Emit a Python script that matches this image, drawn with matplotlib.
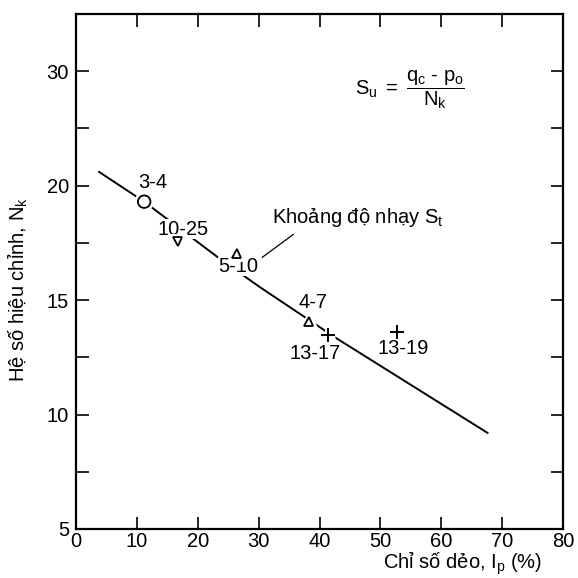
import numpy as np
import matplotlib
matplotlib.use("Agg")
import matplotlib.pyplot as plt
import matplotlib.patheffects as pe
from matplotlib.ticker import FixedLocator, FixedFormatter

plt.rcParams['font.family'] = ['Liberation Sans', 'DejaVu Sans']
plt.rcParams['mathtext.fontset'] = 'custom'
plt.rcParams['mathtext.rm'] = 'Liberation Sans'
plt.rcParams['mathtext.it'] = 'Liberation Sans'
plt.rcParams['mathtext.bf'] = 'Liberation Sans:bold'

FS = 14.5

# ---- data ----
line_x = [3.8, 11.2, 23.9, 30.3, 42.8, 67.6]
line_y = [21.2, 19.3, 16.75, 15.55, 13.33, 9.2]

circle_x, circle_y = [11.2], [19.3]
tri_down_x, tri_down_y = [16.7], [17.58]
tri_up_x, tri_up_y = [26.4, 38.2], [17.03, 14.06]
plus_x, plus_y = [41.4, 52.7], [13.48, 13.62]

label_texts = ["3-4", "10-25", "5-10", "4-7", "13-17", "13-19"]
label_x = [12.6, 17.65, 26.7, 39.0, 39.3, 53.8]
label_y = [20.3, 18.09, 16.47, 14.9, 12.65, 12.87]

xticks = [0, 10, 20, 30, 40, 50, 60, 70, 80]
yticks = [5, 7.5, 10, 12.5, 15, 17.5, 20, 25, 30]
ytick_labels = ["5", "", "10", "", "15", "", "20", "", "30"]


def fwd(y):
    y = np.asarray(y, dtype=float)
    return np.where(y <= 20, y, 20 + (y - 20) / 2.0)


def inv(u):
    u = np.asarray(u, dtype=float)
    return np.where(u <= 20, u, 20 + (u - 20) * 2.0)


fig = plt.figure(figsize=(5.78, 5.78), dpi=100)
ax = fig.add_axes([76 / 578, 49 / 578, 487 / 578, 515 / 578])
ax.set_yscale('function', functions=(fwd, inv))
ax.set_xlim(0, 80)
ax.set_ylim(5, 35)

ax.plot(line_x, line_y, color='black', lw=1.4, zorder=2)

halo = [pe.withStroke(linewidth=5, foreground='white')]
ax.plot(circle_x, circle_y, 'o', ms=9, mfc='white', mec='black', mew=1.3,
        zorder=4, path_effects=halo)
ax.plot(tri_down_x, tri_down_y, 'v', ms=6.5, mfc='white', mec='black', mew=1.3,
        zorder=4, path_effects=halo)
ax.plot(tri_up_x, tri_up_y, '^', ms=6.5, mfc='white', mec='black', mew=1.3,
        zorder=4, path_effects=halo)
ax.plot(plus_x, plus_y, '+', ms=10, mec='black', mew=1.4,
        zorder=4, path_effects=halo)

for t, x, y in zip(label_texts, label_x, label_y):
    ax.text(x, y, t, ha='center', va='center', fontsize=FS, zorder=3,
            bbox=dict(facecolor='white', edgecolor='none', pad=0.3))

ax.text(32.2, 18.6, r"Khoảng độ nhạy S$_t$", ha='left', va='center',
        fontsize=FS, zorder=3)
ax.plot([30.6, 35.7], [16.87, 17.87], color='black', lw=0.9, zorder=3)

ax.text(54.9, 28.35, r"$S_u\ =\ \dfrac{q_c\ \text{-}\ p_o}{N_k}$", ha='center',
        va='center', fontsize=FS)

ax.xaxis.set_major_locator(FixedLocator(xticks))
ax.yaxis.set_major_locator(FixedLocator(yticks))
ax.yaxis.set_major_formatter(FixedFormatter(ytick_labels))
ax.yaxis.set_minor_locator(FixedLocator([]))
ax.tick_params(direction='in', length=9, width=1.2, top=True, right=True,
               labelsize=FS)
ax.tick_params(axis='y', pad=5)
ax.tick_params(axis='x', pad=2)
for s in ax.spines.values():
    s.set_linewidth(1.6)

fig.text(18 / 578, 0.5, r"Hệ số hiệu chỉnh, N$_k$", rotation=90,
         ha='center', va='center', fontsize=FS)
fig.text(463 / 578, 9 / 578, r"Chỉ số dẻo, I$_p$ (%)", ha='center',
         va='baseline', fontsize=FS)

fig.savefig("out.png", dpi=100)
